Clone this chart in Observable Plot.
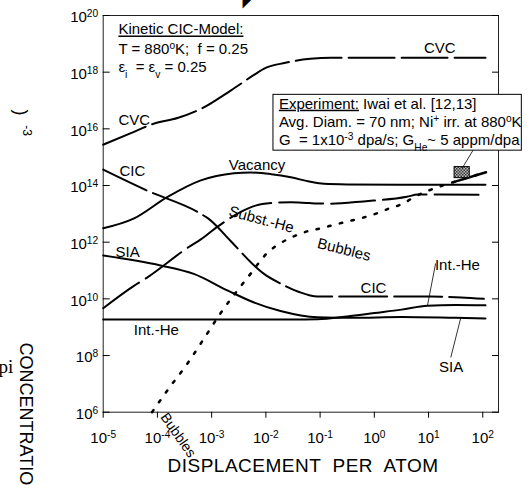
<!DOCTYPE html>
<html>
<head>
<meta charset="utf-8">
<script src="https://cdn.jsdelivr.net/npm/d3@7"></script>
<script src="https://cdn.jsdelivr.net/npm/@observablehq/plot@0.6"></script>
<style>
  html, body { margin: 0; padding: 0; background: white; }
  #chart { width: 529px; height: 485px; overflow: hidden; }
</style>
</head>
<body>
<div id="chart"></div>
<script>
// Ticks (exponents of ten)
const dpaTicks = [-5, -4, -3, -2, -1, 0, 1, 2];
const concTicks = [6, 8, 10, 12, 14, 16, 18, 20];

// Series: log10(dpa) and log10(concentration, cm^-3)
const cvcDpa  = [-5, -4.5, -4.07, -3.63, -3.17, -2.65, -2.19, -2.04, -1.64, -1.18, -0.8, 0, 1, 2.05];
const cvcConc = [15.44, 15.84, 16.18, 16.38, 16.73, 17.35, 17.94, 18.12, 18.33, 18.47, 18.51, 18.51, 18.51, 18.51];

const cicDpa  = [-5, -4.19, -3.2, -3.06, -2.65, -2.25, -2.04, -1.73, -1.4, -1.05, 0, 1.04, 1.6, 2.02];
const cicConc = [14.56, 13.82, 13.0, 12.83, 12.04, 11.24, 10.89, 10.54, 10.25, 10.08, 10.08, 10.08, 10.05, 10.0];

const vacDpa  = [-5, -4.44, -3.82, -3.2, -2.59, -2.28, -1.9, -1.54, -1.2, -0.93, -0.5, 0.5, 1.5, 2.05];
const vacConc = [12.49, 12.83, 13.59, 14.18, 14.43, 14.46, 14.40, 14.29, 14.14, 14.06, 14.04, 14.03, 14.03, 14.03];

const subDpa  = [-5, -4.44, -4.19, -3.43, -3.2, -2.89, -2.47, -2.19, -1.9, -1.54, -1.2, -0.8, -0.2, 0.6, 0.8, 2.05];
const subConc = [9.67, 10.45, 10.75, 11.82, 12.1, 12.55, 13.06, 13.29, 13.38, 13.41, 13.38, 13.36, 13.44, 13.6, 13.68, 13.67];

const siaDpa  = [-5, -3.94, -3.33, -2.7, -2.23, -1.73, -1.05, -0.4, 0.5, 1.5, 2.05];
const siaConc = [11.53, 11.18, 10.88, 10.29, 9.88, 9.57, 9.35, 9.33, 9.36, 9.33, 9.31];

const iheDpa  = [-5, -1.5, -1.05, -0.5, 0, 0.5, 0.98, 1.5, 2.05];
const iheConc = [9.27, 9.27, 9.28, 9.38, 9.5, 9.62, 9.76, 9.78, 9.77];

const bubDpa  = [-4.10, -3.82, -3.45, -3.08, -2.84, -2.50, -2.28, -1.97, -1.70, -1.49, -1.24, -0.99, -0.75, -0.50, -0.22, 0.02, 0.26, 0.54, 0.73, 1.00, 1.46, 2.06];
const bubConc = [6.0, 6.76, 7.71, 8.78, 9.48, 10.36, 10.89, 11.63, 12.0, 12.2, 12.38, 12.49, 12.61, 12.73, 12.86, 13.0, 13.18, 13.37, 13.59, 13.82, 14.12, 14.47];

// Experiment (Iwai et al.): dpa range and concentration range
const expDpa  = [1.48, 1.76];
const expConc = [14.26, 14.65];

const P = (xs, ys) => xs.map((x, i) => ({dpa: 10 ** x, conc: 10 ** ys[i]}));
const cvc = P(cvcDpa, cvcConc), cic = P(cicDpa, cicConc), vac = P(vacDpa, vacConc),
      sub = P(subDpa, subConc), sia = P(siaDpa, siaConc), ihe = P(iheDpa, iheConc),
      bub = P(bubDpa, bubConc);

const E = v => 10 ** v;
const supFmt = d => `10^{${Math.round(Math.log10(d))}}`;

function label(text, ex, ey, opts = {}) {
  return Plot.text([0], {x: () => E(ex), y: () => E(ey), text: () => text,
    textAnchor: "start", lineAnchor: "bottom", fontSize: 15, fill: "black", ...opts});
}

const line = (data, opts) => Plot.line(data, {x: "dpa", y: "conc", curve: "monotone-x",
  stroke: "black", strokeWidth: 2, ...opts});

const svg = Plot.plot({
  width: 529, height: 485,
  marginLeft: 102.7, marginRight: 31, marginTop: 15, marginBottom: 73.3,
  x: {type: "log", domain: [1e-5, 10 ** 2.29]},
  y: {type: "log", domain: [1e6, 1e20]},
  style: {fontFamily: "'Liberation Sans', Arial, sans-serif", fontSize: "15px", background: "white", color: "black"},
  marks: [
    Plot.frame({stroke: "#222"}),
    // inner ticks
    Plot.axisY({anchor: "left", ticks: concTicks.map(E), tickSize: 7, dx: 7, tickFormat: () => "", label: null}),
    Plot.axisY({anchor: "right", ticks: concTicks.map(E), tickSize: 7, dx: -7, tickFormat: () => "", label: null}),
    Plot.axisY({anchor: "left", ticks: concTicks.map(E), tickSize: 0, tickPadding: 5, dy: 2, fontSize: 15, tickFormat: supFmt, label: null}),
    Plot.axisX({anchor: "bottom", ticks: dpaTicks.map(E), tickSize: 6, tickPadding: 14, fontSize: 15, tickFormat: supFmt, label: null}),

    line(cvc, {strokeDasharray: "46,7"}),
    line(cic, {strokeDasharray: "48,7"}),
    line(sub, {strokeDasharray: "44,8"}),
    line(vac, {}),
    line(sia, {}),
    line(ihe, {}),
    line(bub, {strokeDasharray: "2.5,9.5", strokeWidth: 2.5}),
    line(bub.slice(-2), {strokeWidth: 2.5}),

    // experiment marker
    Plot.rect([0], {x1: () => E(expDpa[0]), x2: () => E(expDpa[1]), y1: () => E(expConc[0]), y2: () => E(expConc[1]),
      fill: "url(#xhatch)", stroke: "black", strokeWidth: 1}),

    // leader lines
    Plot.link([0], {x1: () => E(1.835), y1: () => E(15.29), x2: () => E(1.62), y2: () => E(14.61), stroke: "black", strokeWidth: 0.8}),
    Plot.link([0], {x1: () => E(1.13), y1: () => E(11.25), x2: () => E(0.98), y2: () => E(9.76), stroke: "black", strokeWidth: 0.8}),
    Plot.link([0], {x1: () => E(1.59), y1: () => E(9.30), x2: () => E(1.41), y2: () => E(7.93), stroke: "black", strokeWidth: 0.8}),

    // experiment box
    Plot.rect([0], {x1: () => E(-1.86), x2: () => E(2.72), y1: () => E(15.23), y2: () => E(17.2),
      fill: "white", stroke: "black", strokeWidth: 1}),
    label("§{Experiment:} Iwai et al. [12,13]", -1.76, 16.71),
    label("Avg. Diam. = 70 nm; Ni^{+} irr. at 880^{o}K", -1.76, 16.06),
    label("G  = 1x10^{-3} dpa/s; G_{He}~ 5 appm/dpa", -1.76, 15.44),

    // model annotation
    label("§{Kinetic CIC-Model:}", -4.72, 19.33),
    label("T = 880^{o}K;  f = 0.25", -4.72, 18.65),
    label("ε_{i}  = ε_{v} = 0.25", -4.72, 18.02),

    // curve labels
    label("CVC", -4.72, 16.15),
    label("CVC", 0.915, 18.68),
    label("CIC", -4.70, 14.32),
    label("Vacancy", -2.683, 14.55),
    label("Subst.-He", -2.70, 12.94, {rotate: 15}),
    label("Bubbles", -1.065, 11.80, {rotate: 14}),
    label("SIA", -4.773, 11.49),
    label("Int.-He", -4.435, 8.73),
    label("CIC", -0.253, 10.21),
    label("Int.-He", 1.118, 11.02),
    label("SIA", 1.192, 7.41),
    label("Bubbles", -3.885, 5.92, {rotate: 55, lineAnchor: "middle", fontSize: 14}),

    // axis titles and stray fragments
    label("DISPLACEMENT  PER  ATOM", -1.314, 3.88, {textAnchor: "middle", fontSize: 19}),
    label("CONCENTRATION", -6.434, 8.46, {rotate: 90, lineAnchor: "middle", fontSize: 18}),
    label(")", -6.526, 16.58, {rotate: 90, textAnchor: "middle", lineAnchor: "middle", fontSize: 18}),
    label("-3", -6.415, 15.94, {rotate: 90, textAnchor: "middle", lineAnchor: "middle", fontSize: 12}),
    label("pi", -6.93, 7.40, {fontSize: 19, fontFamily: "'Liberation Serif', serif"}),
    label("◤", -2.338, 20.46, {textAnchor: "middle", lineAnchor: "middle", fontSize: 13, fontFamily: "'DejaVu Sans', sans-serif"})
  ]
});

// defs: hatch pattern
const ns = "http://www.w3.org/2000/svg";
const defs = document.createElementNS(ns, "defs");
defs.innerHTML = `<pattern id="xhatch" width="3" height="3" patternUnits="userSpaceOnUse">
  <rect width="3" height="3" fill="#bbb"/>
  <rect width="1.5" height="1.5" fill="#333"/>
  <rect x="1.5" y="1.5" width="1.5" height="1.5" fill="#333"/>
</pattern>`;
svg.insertBefore(defs, svg.firstChild);

// rich text: ^{sup}, _{sub}, §{underline}
function add(el, s) {
  const ts = document.createElementNS(ns, "tspan");
  ts.textContent = s;
  el.appendChild(ts);
  return ts;
}
svg.querySelectorAll("text").forEach(t => {
  const targets = t.querySelector("tspan") ? [...t.querySelectorAll("tspan")] : [t];
  targets.forEach(el => {
    const s = el.textContent;
    if (!/[\^_§]\{/.test(s)) return;
    el.textContent = "";
    const re = /([\^_§])\{([^}]*)\}/g;
    let last = 0, m;
    while ((m = re.exec(s))) {
      if (m.index > last) add(el, s.slice(last, m.index));
      const ts = add(el, m[2]);
      if (m[1] === "^") { ts.setAttribute("baseline-shift", "super"); ts.setAttribute("font-size", "68%"); }
      else if (m[1] === "_") { ts.setAttribute("baseline-shift", "sub"); ts.setAttribute("font-size", "68%"); }
      else { ts.setAttribute("text-decoration", "underline"); }
      last = re.lastIndex;
    }
    if (last < s.length) add(el, s.slice(last));
  });
});
svg.querySelectorAll("text").forEach(t => {
  if (t.textContent.startsWith("DISPLACEMENT")) t.setAttribute("letter-spacing", "0.5");
});

document.getElementById("chart").appendChild(svg);
</script>
</body>
</html>
